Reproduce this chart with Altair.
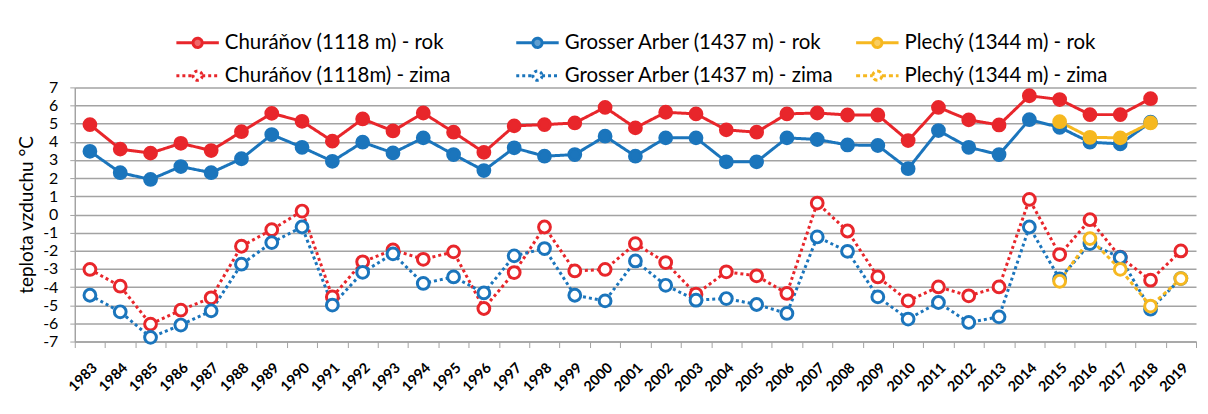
import altair as alt
import pandas as pd

FONT = "Lato"
GRID = "#a3a3a3"

years = list(range(1983, 2020))
plechy_years = [2015, 2016, 2017, 2018, 2019]

series_names = [
    "Churáňov (1118 m) - rok",
    "Grosser Arber (1437 m) - rok",
    "Plechý (1344 m) - rok",
    "Churáňov (1118m) - zima",
    "Grosser Arber (1437 m) - zima",
    "Plechý (1344 m) - zima",
]
series_colors = ["#e8262b", "#1b75bc", "#f6b820", "#e8262b", "#1b75bc", "#f6b820"]
series_fill = ["#e8262b", "#1b75bc", "#f6b820", "white", "white", "white"]

churanov_rok = [4.95, 3.6, 3.38, 3.92, 3.52, 4.56, 5.57, 5.13, 4.04, 5.26,
                4.6, 5.59, 4.53, 3.42, 4.88, 4.95, 5.04, 5.9, 4.77, 5.63,
                5.54, 4.66, 4.53, 5.54, 5.59, 5.48, 5.48, 4.07, 5.9, 5.21,
                4.93, 6.54, 6.33, 5.5, 5.5, 6.38, None]
arber_rok = [3.48, 2.3, 1.93, 2.64, 2.3, 3.07, 4.4, 3.7, 2.93, 3.98,
             3.39, 4.22, 3.3, 2.42, 3.67, 3.21, 3.3, 4.31, 3.21, 4.22,
             4.22, 2.9, 2.9, 4.22, 4.13, 3.83, 3.8, 2.52, 4.62, 3.7,
             3.3, 5.22, 4.8, 3.98, 3.89, 5.08, None]
plechy_rok = [5.11, 4.25, 4.22, 5.04, None]
churanov_zima = [-3.03, -3.95, -6.04, -5.27, -4.59, -1.75, -0.84, 0.19, -4.54, -2.61,
                 -1.95, -2.47, -2.06, -5.18, -3.2, -0.69, -3.11, -3.03, -1.61, -2.65,
                 -4.39, -3.16, -3.38, -4.35, 0.63, -0.91, -3.44, -4.76, -3.99, -4.48,
                 -3.99, 0.83, -2.21, -0.29, -2.35, -3.62, -2.01]
arber_zima = [-4.45, -5.36, -6.77, -6.09, -5.31, -2.74, -1.55, -0.69, -4.99, -3.19,
              -2.17, -3.8, -3.44, -4.32, -2.28, -1.88, -4.45, -4.76, -2.56, -3.9,
              -4.72, -4.63, -4.96, -5.45, -1.24, -2.03, -4.54, -5.76, -4.85, -5.95,
              -5.64, -0.69, -3.55, -1.6, -2.37, -5.22, -3.53]
plechy_zima = [-3.68, -1.33, -3.02, -5.05, -3.53]

series_data = [
    (series_names[0], years, churanov_rok),
    (series_names[1], years, arber_rok),
    (series_names[2], plechy_years, plechy_rok),
    (series_names[3], years, churanov_zima),
    (series_names[4], years, arber_zima),
    (series_names[5], plechy_years, plechy_zima),
]

rows = []
for name, yrs, vals in series_data:
    for yr, v in zip(yrs, vals):
        if v is not None:
            rows.append({"year": str(yr), "series": name, "value": v})
df = pd.DataFrame(rows)

year_labels = [str(y) for y in years]

x_enc = alt.X(
    "year:O",
    bandPosition=0.5,
    sort=year_labels,
    scale=alt.Scale(type="band", domain=year_labels, paddingInner=0, paddingOuter=0),
    axis=alt.Axis(
        title=None, labelAngle=-45, labelFont=FONT, labelFontSize=14.5,
        labelFontWeight="bold", labelColor="#000", tickBand="extent", ticks=True,
        tickSize=6, tickColor=GRID, domainColor=GRID, domainWidth=1.5, grid=False,
        labelPadding=13,
    ),
)
y_enc = alt.Y(
    "value:Q",
    scale=alt.Scale(domain=[-7, 7], nice=False, zero=False),
    axis=alt.Axis(
        values=list(range(-7, 8)), labelExpr="toString(datum.value)",
        title="teplota vzduchu °C", titleFont=FONT, titleFontSize=19,
        titleFontWeight="normal", titleColor="#000", titlePadding=6,
        labelFont=FONT, labelFontSize=16, labelColor="#000", labelPadding=12,
        grid=True, gridColor=GRID, gridWidth=1.5, domain=True, domainColor=GRID,
        domainWidth=1.5, ticks=True, tickSize=5, tickColor=GRID,
    ),
)

legend_symbol = ("M-3.6,0H-0.78M0.78,0H3.6M0.78,0A0.78,0.78 0 1,1 -0.78,0"
                 "A0.78,0.78 0 1,1 0.78,0Z")

legend = alt.Legend(
    title=None, orient="none", legendX=113, legendY=-55, direction="horizontal",
    columns=3, gridAlign="all",
    symbolType=legend_symbol, symbolSize=400, symbolStrokeWidth=2.5,
    labelFont=FONT, labelFontSize=20.5, labelColor="#000", labelLimit=1000,
    labelOffset=17, columnPadding=14, rowPadding=11, padding=0,
)

opacity_scale = alt.Scale(domain=series_names, range=[1, 1, 0.75, 1, 1, 0.9])
stroke_enc = alt.Stroke("series:N", legend=legend,
                        scale=alt.Scale(domain=series_names, range=series_colors))

lines = alt.Chart(df).mark_line(strokeCap="butt").encode(
    x=x_enc,
    y=y_enc,
    stroke=stroke_enc,
    strokeDash=alt.StrokeDash(
        "series:N", legend=legend,
        scale=alt.Scale(domain=series_names,
                        range=[[1, 0], [1, 0], [1, 0], [3, 3], [3, 3], [4, 3]]),
    ),
    strokeWidth=alt.StrokeWidth(
        "series:N", legend=None,
        scale=alt.Scale(domain=series_names, range=[3, 3, 3.5, 2.5, 2.5, 4]),
    ),
    opacity=alt.Opacity("series:N", legend=legend, scale=opacity_scale),
)

points = alt.Chart(df).mark_point().encode(
    x=x_enc,
    y=y_enc,
    stroke=stroke_enc,
    fill=alt.Fill("series:N", legend=legend,
                  scale=alt.Scale(domain=series_names, range=series_fill)),
    size=alt.Size("series:N", legend=None,
                  scale=alt.Scale(domain=series_names, range=[140, 140, 140, 80, 80, 120])),
    strokeWidth=alt.StrokeWidth(
        "series:N", legend=None,
        scale=alt.Scale(domain=series_names, range=[1, 1, 1, 2.5, 2.5, 3]),
    ),
    opacity=alt.Opacity("series:N", legend=legend, scale=opacity_scale),
)

chart = (
    alt.layer(lines, points)
    .properties(
        width=1125,
        height=255,
        autosize=alt.AutoSizeParams(type="none"),
        padding={"left": 67, "top": 79, "right": 4, "bottom": 60},
        background="white",
    )
    .configure_view(stroke=None)
)

chart.save("out.html", embed_options={"renderer": "svg", "actions": False})
